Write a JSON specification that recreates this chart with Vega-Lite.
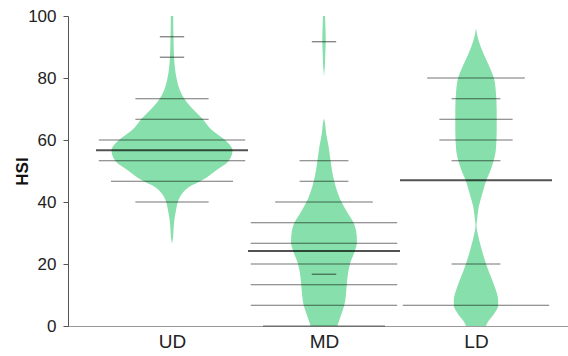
{
  "$schema": "https://vega.github.io/schema/vega-lite/v6.json",
  "width": 500,
  "height": 310,
  "autosize": {"type": "none"},
  "padding": {"left": 68, "top": 16, "right": 0, "bottom": 30},
  "background": "white",
  "config": {
    "view": {"stroke": null},
    "font": "Liberation Sans",
    "axis": {"grid": false, "labelFont": "Liberation Sans", "titleFont": "Liberation Sans", "labelColor": "#222", "titleColor": "#111"}
  },
  "datasets": {
    "profile": [
      {"group": "UD", "value": 100, "density": 0.0006},
      {"group": "UD", "value": 96, "density": 0.00065},
      {"group": "UD", "value": 93, "density": 0.00075},
      {"group": "UD", "value": 87, "density": 0.001},
      {"group": "UD", "value": 83, "density": 0.0015},
      {"group": "UD", "value": 80, "density": 0.00225},
      {"group": "UD", "value": 76, "density": 0.004},
      {"group": "UD", "value": 73, "density": 0.0065},
      {"group": "UD", "value": 69.6, "density": 0.011},
      {"group": "UD", "value": 67, "density": 0.015},
      {"group": "UD", "value": 63.5, "density": 0.0195},
      {"group": "UD", "value": 60, "density": 0.0265},
      {"group": "UD", "value": 56.7, "density": 0.03025},
      {"group": "UD", "value": 54.5, "density": 0.0295},
      {"group": "UD", "value": 53, "density": 0.028},
      {"group": "UD", "value": 50.2, "density": 0.022},
      {"group": "UD", "value": 47, "density": 0.015},
      {"group": "UD", "value": 44.8, "density": 0.0085},
      {"group": "UD", "value": 42.7, "density": 0.005},
      {"group": "UD", "value": 40.2, "density": 0.003},
      {"group": "UD", "value": 37.3, "density": 0.002},
      {"group": "UD", "value": 34.1, "density": 0.00115},
      {"group": "UD", "value": 31, "density": 0.00075},
      {"group": "UD", "value": 28.5, "density": 0.0005},
      {"group": "UD", "value": 26.5, "density": 0},
      {"group": "MD", "value": 100, "density": 0.0005},
      {"group": "MD", "value": 95.4, "density": 0.00075},
      {"group": "MD", "value": 92.2, "density": 0.00085},
      {"group": "MD", "value": 88, "density": 0.00065},
      {"group": "MD", "value": 83.5, "density": 0.0004},
      {"group": "MD", "value": 80.3, "density": 0},
      {"group": "MD", "value": 67, "density": 0},
      {"group": "MD", "value": 66.4, "density": 0.00025},
      {"group": "MD", "value": 62, "density": 0.0011},
      {"group": "MD", "value": 57.7, "density": 0.00235},
      {"group": "MD", "value": 53, "density": 0.00335},
      {"group": "MD", "value": 47, "density": 0.005},
      {"group": "MD", "value": 42.7, "density": 0.007},
      {"group": "MD", "value": 40, "density": 0.00875},
      {"group": "MD", "value": 36.3, "density": 0.012},
      {"group": "MD", "value": 33, "density": 0.015},
      {"group": "MD", "value": 30.9, "density": 0.016},
      {"group": "MD", "value": 27.1, "density": 0.0165},
      {"group": "MD", "value": 23.9, "density": 0.01525},
      {"group": "MD", "value": 20.1, "density": 0.013},
      {"group": "MD", "value": 16.9, "density": 0.012},
      {"group": "MD", "value": 13.1, "density": 0.01135},
      {"group": "MD", "value": 9.4, "density": 0.01085},
      {"group": "MD", "value": 6.7, "density": 0.01015},
      {"group": "MD", "value": 3.5, "density": 0.0085},
      {"group": "MD", "value": 0, "density": 0.00665},
      {"group": "LD", "value": 96, "density": 0},
      {"group": "LD", "value": 92.2, "density": 0.00125},
      {"group": "LD", "value": 88, "density": 0.00365},
      {"group": "LD", "value": 83.5, "density": 0.00685},
      {"group": "LD", "value": 79.8, "density": 0.009},
      {"group": "LD", "value": 75, "density": 0.01},
      {"group": "LD", "value": 69.6, "density": 0.01035},
      {"group": "LD", "value": 63.1, "density": 0.01035},
      {"group": "LD", "value": 56.7, "density": 0.0099},
      {"group": "LD", "value": 53.5, "density": 0.0089},
      {"group": "LD", "value": 50.2, "density": 0.00725},
      {"group": "LD", "value": 47, "density": 0.00515},
      {"group": "LD", "value": 42.7, "density": 0.00315},
      {"group": "LD", "value": 38.4, "density": 0.00135},
      {"group": "LD", "value": 34.1, "density": 0.0005},
      {"group": "LD", "value": 32.5, "density": 0.00025},
      {"group": "LD", "value": 29.8, "density": 0.00085},
      {"group": "LD", "value": 25.5, "density": 0.0025},
      {"group": "LD", "value": 20.1, "density": 0.005},
      {"group": "LD", "value": 15.8, "density": 0.0075},
      {"group": "LD", "value": 12.6, "density": 0.0094},
      {"group": "LD", "value": 8.3, "density": 0.0111},
      {"group": "LD", "value": 6.7, "density": 0.0111},
      {"group": "LD", "value": 4, "density": 0.00915},
      {"group": "LD", "value": 0.8, "density": 0.0055},
      {"group": "LD", "value": 0, "density": 0.005}
    ],
    "obs": [
      {"group": "UD", "value": 93.3, "n": 1},
      {"group": "UD", "value": 86.7, "n": 1},
      {"group": "UD", "value": 73.3, "n": 3},
      {"group": "UD", "value": 66.7, "n": 3},
      {"group": "UD", "value": 60, "n": 6},
      {"group": "UD", "value": 53.3, "n": 6},
      {"group": "UD", "value": 46.7, "n": 5},
      {"group": "UD", "value": 40, "n": 3},
      {"group": "MD", "value": 91.7, "n": 1},
      {"group": "MD", "value": 53.3, "n": 2},
      {"group": "MD", "value": 46.7, "n": 2},
      {"group": "MD", "value": 40, "n": 4},
      {"group": "MD", "value": 33.3, "n": 6},
      {"group": "MD", "value": 26.7, "n": 6},
      {"group": "MD", "value": 20, "n": 6},
      {"group": "MD", "value": 16.7, "n": 1},
      {"group": "MD", "value": 13.3, "n": 6},
      {"group": "MD", "value": 6.7, "n": 6},
      {"group": "MD", "value": 0, "n": 5},
      {"group": "LD", "value": 80, "n": 4},
      {"group": "LD", "value": 73.3, "n": 2},
      {"group": "LD", "value": 66.7, "n": 3},
      {"group": "LD", "value": 60, "n": 3},
      {"group": "LD", "value": 53.3, "n": 2},
      {"group": "LD", "value": 20, "n": 2},
      {"group": "LD", "value": 6.7, "n": 6}
    ],
    "means": [
      {"group": "UD", "mean": 56.7},
      {"group": "MD", "mean": 24.2},
      {"group": "LD", "mean": 47.0}
    ]
  },
  "layer": [
    {
      "data": {"name": "profile"},
      "transform": [
        {"calculate": "indexof(['UD','MD','LD'], datum.group) + 1", "as": "idx"},
        {"calculate": "datum.idx - datum.density * 13.158", "as": "xl"},
        {"calculate": "datum.idx + datum.density * 13.158", "as": "xr"}
      ],
      "mark": {"type": "area", "orient": "horizontal", "color": "#87dfab", "opacity": 1, "interpolate": "monotone"},
      "encoding": {
        "y": {
          "field": "value", "type": "quantitative",
          "scale": {"domain": [0, 100], "nice": false, "zero": false},
          "axis": {
            "values": [0, 20, 40, 60, 80, 100],
            "tickSize": 5, "tickColor": "#555", "domainColor": "#555",
            "labelFontSize": 17, "labelPadding": 7,
            "title": "HSI", "titleFontSize": 17, "titleFontWeight": "bold",
            "titleX": -46, "titleY": 155, "titleAngle": -90, "titleBaseline": "middle", "titleAlign": "center"
          }
        },
        "x": {
          "field": "xl", "type": "quantitative", "stack": null,
          "scale": {"domain": [0.3158, 3.6053], "nice": false, "zero": false},
          "axis": {
            "values": [1, 2, 3],
            "labelExpr": "['UD','MD','LD'][datum.value - 1]",
            "ticks": false, "tickSize": 0, "domainColor": "#999",
            "labelFontSize": 19, "labelPadding": 6, "title": null
          }
        },
        "x2": {"field": "xr"},
        "detail": {"field": "group"}
      }
    },
    {
      "data": {"name": "obs"},
      "transform": [
        {"calculate": "indexof(['UD','MD','LD'], datum.group) + 1", "as": "idx"},
        {"calculate": "datum.idx - datum.n * 0.0803", "as": "xl"},
        {"calculate": "datum.idx + datum.n * 0.0803", "as": "xr"}
      ],
      "mark": {"type": "rule", "color": "#000", "opacity": 0.55, "strokeWidth": 1.2},
      "encoding": {
        "y": {"field": "value", "type": "quantitative"},
        "x": {"field": "xl", "type": "quantitative"},
        "x2": {"field": "xr"}
      }
    },
    {
      "data": {"name": "means"},
      "transform": [
        {"calculate": "indexof(['UD','MD','LD'], datum.group) + 1", "as": "idx"},
        {"calculate": "datum.idx - 0.5", "as": "xl"},
        {"calculate": "datum.idx + 0.5", "as": "xr"}
      ],
      "mark": {"type": "rule", "color": "#000", "opacity": 0.68, "strokeWidth": 2},
      "encoding": {
        "y": {"field": "mean", "type": "quantitative"},
        "x": {"field": "xl", "type": "quantitative"},
        "x2": {"field": "xr"}
      }
    },
    {
      "mark": {"type": "rule", "color": "#999", "strokeWidth": 1},
      "encoding": {"y": {"datum": 100}}
    }
  ]
}
